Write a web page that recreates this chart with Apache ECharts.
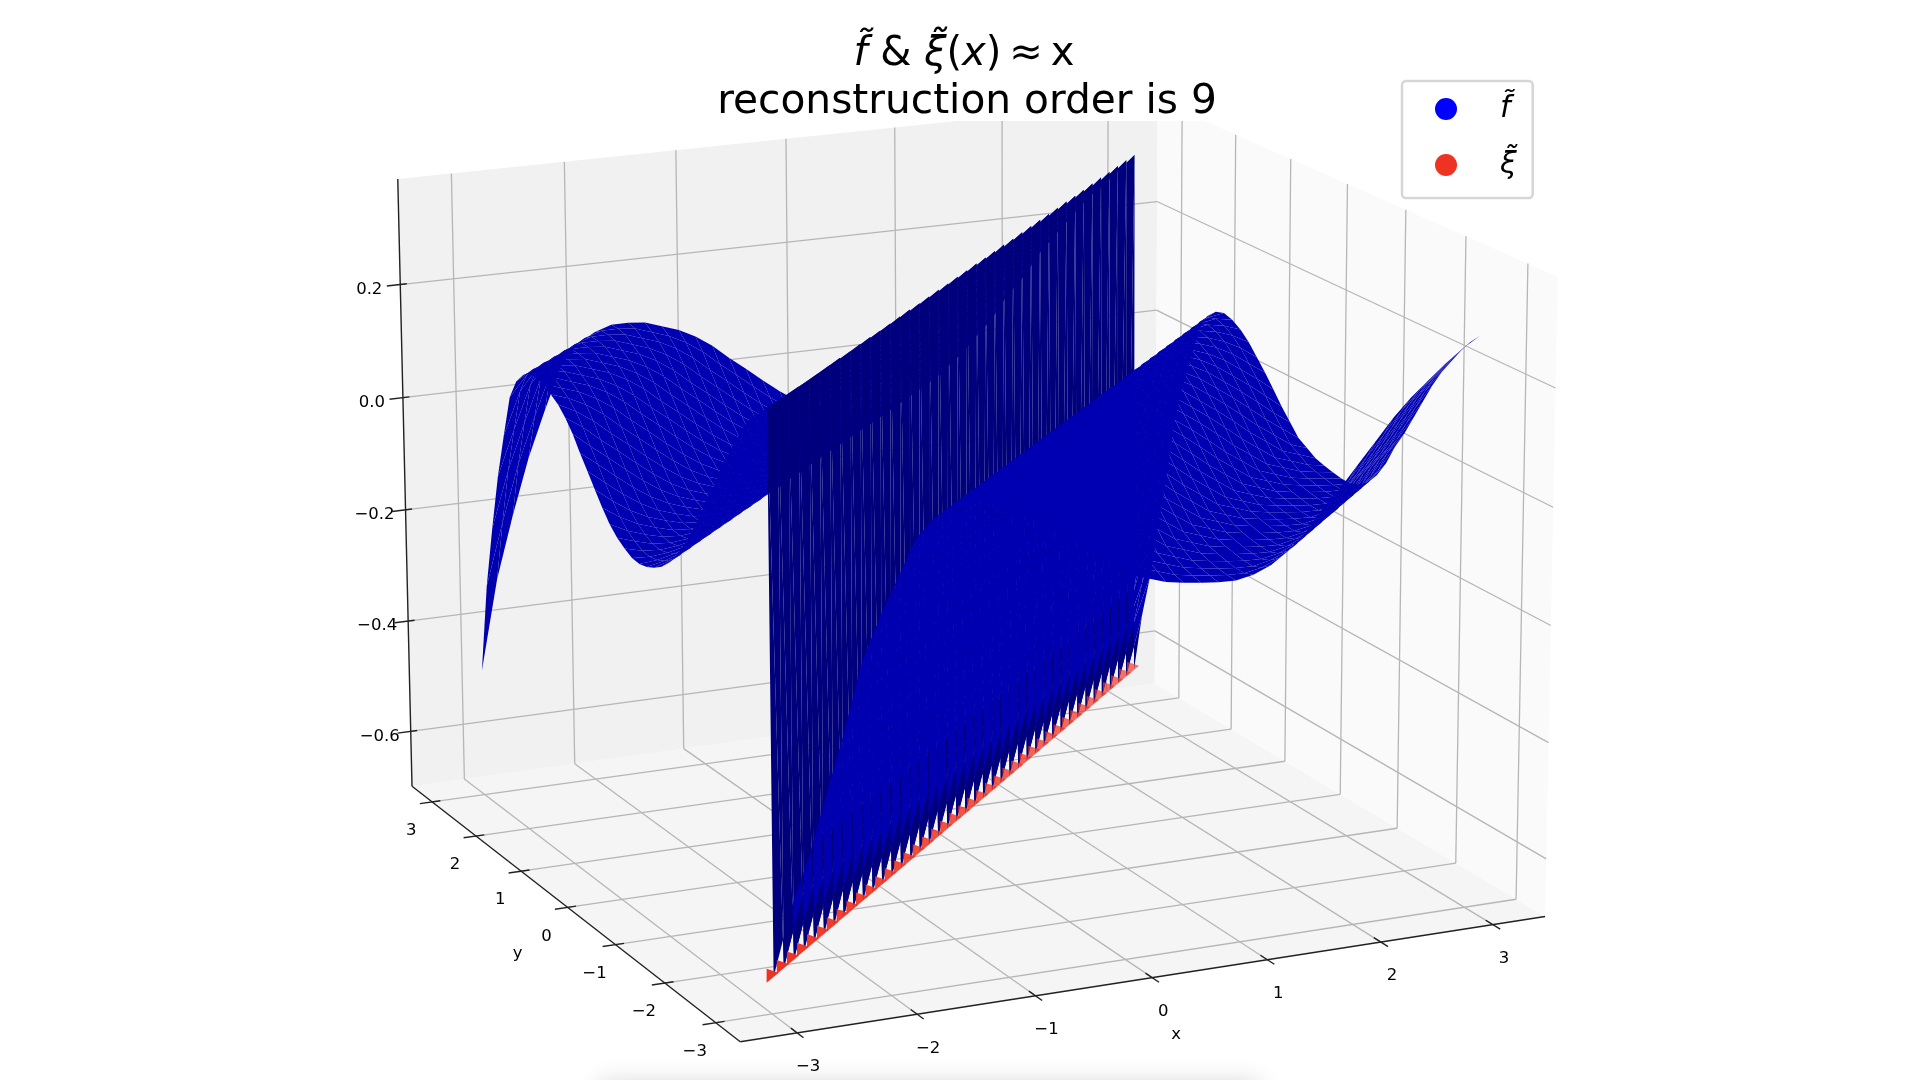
<!DOCTYPE html>
<html>
<head>
<meta charset="utf-8">
<style>
html, body { margin: 0; padding: 0; background: #fff; }
#main { width: 1920px; height: 1080px; }
</style>
<script src="https://cdn.jsdelivr.net/npm/echarts@6/dist/echarts.min.js"></script>
</head>
<body>
<div id="main"></div>
<script>
// mesh positions along x and along y
var gridX = [-3.03, -2.879, -2.729, -2.578, -2.427, -2.276, -2.126, -1.975, -1.824, -1.674,
    -1.523, -1.372, -1.221, -1.071, -0.92, -0.769, -0.619, -0.468, -0.317, -0.166, -0.015,
    0.136, 0.286, 0.437, 0.588, 0.739, 0.889, 1.04, 1.191, 1.341, 1.492,
    1.643, 1.794, 1.944, 2.095, 2.246, 2.396, 2.547, 2.698, 2.849, 3.0];
var gridY = [-3.1, -2.949, -2.799, -2.648, -2.497, -2.346, -2.196, -2.045, -1.894, -1.744,
    -1.593, -1.442, -1.291, -1.141, -0.99, -0.839, -0.689, -0.538, -0.387, -0.236, -0.085,
    0.066, 0.216, 0.367, 0.518, 0.669, 0.819, 0.97, 1.121, 1.271, 1.422,
    1.573, 1.724, 1.874, 2.025, 2.176, 2.326, 2.477, 2.628, 2.779, 2.93];

// surface height on the diagonal (also the red points)
var zDiagonal = -0.63;
// surface height, index 0 is one mesh step away from the diagonal
var zBelowDiagonal = [-0.52, -0.44, -0.34, -0.24, -0.13, -0.06, 0, 0.06, 0.09, 0.105,
    0.11, 0.105, 0.095, 0.08, 0.06, 0.04, 0.018, -0.005, -0.025, -0.045,
    -0.055, -0.065, -0.07, -0.074, -0.077, -0.078, -0.072, -0.06, -0.04, -0.012,
    0.025, 0.055, 0.09, 0.125, 0.16, 0.19, 0.215, 0.24, 0.262, 0.28];
// the first row above the diagonal is the top of the wall
var zWallTop = [0.295, 0.295, 0.296, 0.297, 0.297, 0.298, 0.299, 0.3, 0.3, 0.301,
    0.302, 0.302, 0.303, 0.304, 0.305, 0.305, 0.306, 0.307, 0.307, 0.308,
    0.309, 0.31, 0.31, 0.311, 0.312, 0.312, 0.313, 0.314, 0.315, 0.315,
    0.316, 0.317, 0.317, 0.318, 0.319, 0.32, 0.32, 0.321, 0.322, 0.322];
var zAboveDiagonal = [0.27, 0.25, 0.22, 0.19, 0.16, 0.12, 0.09, 0.05, 0.02,
    -0.01, -0.035, -0.055, -0.07, -0.08, -0.087, -0.09, -0.088, -0.08, -0.07,
    -0.055, -0.035, -0.012, 0.012, 0.035, 0.06, 0.08, 0.095, 0.105, 0.115,
    0.118, 0.118, 0.108, 0.09, 0.055, -0.02, -0.10, -0.20, -0.31, -0.47];
// the wall top sits closer to the red line than one mesh step
var wallPullX = [0.03, 0.032, 0.034, 0.036, 0.038, 0.04, 0.042, 0.044, 0.046, 0.048,
    0.05, 0.052, 0.054, 0.056, 0.058, 0.06, 0.062, 0.064, 0.066, 0.068,
    0.07, 0.072, 0.074, 0.076, 0.078, 0.08, 0.082, 0.084, 0.086, 0.088,
    0.09, 0.092, 0.094, 0.096, 0.098, 0.1, 0.102, 0.104, 0.106, 0.108];
var wallPullY = 0.06;

var xTicks = [-3, -2, -1, 0, 1, 2, 3];
var yTicks = [-3, -2, -1, 0, 1, 2, 3];
var zTicks = [-0.6, -0.4, -0.2, 0, 0.2];
var xRange = [-3.47, 3.47];
var yRange = [-3.47, 3.47];
var zRange = [-0.70, 0.385];

// box corners in page pixels, [u, v, w, px, py]; the camera is fitted to them
var boxCorners = [
    [0, 0, 0, 740, 1042],
    [1, 0, 0, 1545, 916],
    [0, 1, 0, 412, 786],
    [1, 1, 0, 1155, 684],
    [0, 1, 1, 398, 179],
    [1, 0, 1, 1558, 277],
    [1, 1, 1, 1157, 100]
];

function solveCamera(corners) {
    var rows = [], rhs = [];
    corners.forEach(function (c) {
        rows.push([c[0], c[1], c[2], 1, 0, 0, 0, 0, -c[3] * c[0], -c[3] * c[1], -c[3] * c[2]]);
        rhs.push(c[3]);
        rows.push([0, 0, 0, 0, c[0], c[1], c[2], 1, -c[4] * c[0], -c[4] * c[1], -c[4] * c[2]]);
        rhs.push(c[4]);
    });
    var n = 11, a = [];
    for (var i = 0; i < n; i++) {
        a.push([]);
        for (var j = 0; j <= n; j++) {
            var s = 0;
            for (var r = 0; r < rows.length; r++) {
                s += rows[r][i] * (j === n ? rhs[r] : rows[r][j]);
            }
            a[i].push(s);
        }
    }
    for (var p = 0; p < n; p++) {
        var best = p;
        for (var q = p + 1; q < n; q++) {
            if (Math.abs(a[q][p]) > Math.abs(a[best][p])) best = q;
        }
        var t = a[p]; a[p] = a[best]; a[best] = t;
        for (var q2 = 0; q2 < n; q2++) {
            if (q2 === p) continue;
            var f = a[q2][p] / a[p][p];
            for (var k = p; k <= n; k++) a[q2][k] -= f * a[p][k];
        }
    }
    return a.map(function (row, idx) { return row[n] / row[idx]; });
}
var cam = solveCamera(boxCorners);

function project(x, y, z) {
    var u = (x - xRange[0]) / (xRange[1] - xRange[0]);
    var v = (y - yRange[0]) / (yRange[1] - yRange[0]);
    var w = (z - zRange[0]) / (zRange[1] - zRange[0]);
    var h = cam[8] * u + cam[9] * v + cam[10] * w + 1;
    return [
        (cam[0] * u + cam[1] * v + cam[2] * w + cam[3]) / h,
        (cam[4] * u + cam[5] * v + cam[6] * w + cam[7]) / h,
        h
    ];
}

function surfaceZ(i, j) {
    if (i === j) return zDiagonal;
    if (j === i + 1) return zWallTop[i];
    return i > j ? zBelowDiagonal[i - j - 1] : zAboveDiagonal[j - i - 2];
}

function nodePoint(i, j) {
    if (j === i + 1) {
        return project(gridX[i] + wallPullX[i], gridY[j] - wallPullY, surfaceZ(i, j));
    }
    return project(gridX[i], gridY[j], surfaceZ(i, j));
}

// list of mesh cells, far ones first
var cells = [];
for (var i = 0; i < gridX.length - 1; i++) {
    for (var j = 0; j < gridY.length - 1; j++) {
        var depth = (nodePoint(i, j)[2] + nodePoint(i + 1, j)[2] + nodePoint(i + 1, j + 1)[2] + nodePoint(i, j + 1)[2]) / 4;
        cells.push([i, j, depth]);
    }
}
cells.sort(function (a, b) { return b[2] - a[2]; });

function cellColor(i, j) {
    var dx = gridX[i + 1] - gridX[i];
    var dzx = (surfaceZ(i + 1, j) + surfaceZ(i + 1, j + 1) - surfaceZ(i, j) - surfaceZ(i, j + 1)) / 2;
    var dzy = (surfaceZ(i, j + 1) + surfaceZ(i + 1, j + 1) - surfaceZ(i, j) - surfaceZ(i + 1, j)) / 2;
    var flat = dx / Math.sqrt(dx * dx + dzx * dzx + dzy * dzy);
    var s = Math.max(0, Math.min(1, (flat - 0.3) / 0.35));
    return 'rgb(0,0,' + Math.round(124 + 54 * s) + ')';
}

// straight segments of the box: panes' grid lines, axis lines and ticks
var gridSegments = [];
xTicks.forEach(function (x) {
    gridSegments.push([[x, yRange[0], zRange[0]], [x, yRange[1], zRange[0]]]);
    gridSegments.push([[x, yRange[1], zRange[0]], [x, yRange[1], zRange[1]]]);
});
yTicks.forEach(function (y) {
    gridSegments.push([[xRange[0], y, zRange[0]], [xRange[1], y, zRange[0]]]);
    gridSegments.push([[xRange[1], y, zRange[0]], [xRange[1], y, zRange[1]]]);
});
zTicks.forEach(function (z) {
    gridSegments.push([[xRange[0], yRange[1], z], [xRange[1], yRange[1], z]]);
    gridSegments.push([[xRange[1], yRange[1], z], [xRange[1], yRange[0], z]]);
});

var axisSegments = [
    [[xRange[0], yRange[0], zRange[0]], [xRange[1], yRange[0], zRange[0]]],
    [[xRange[0], yRange[0], zRange[0]], [xRange[0], yRange[1], zRange[0]]],
    [[xRange[0], yRange[1], zRange[0]], [xRange[0], yRange[1], zRange[1]]]
];
var xSpan = xRange[1] - xRange[0], ySpan = yRange[1] - yRange[0];
xTicks.forEach(function (x) {
    axisSegments.push([[x, yRange[0] + 0.017 * ySpan, zRange[0]], [x, yRange[0] - 0.017 * ySpan, zRange[0]]]);
});
yTicks.forEach(function (y) {
    axisSegments.push([[xRange[0] + 0.0105 * xSpan, y, zRange[0]], [xRange[0] - 0.0157 * xSpan, y, zRange[0]]]);
});
zTicks.forEach(function (z) {
    axisSegments.push([[xRange[0] + 0.0083 * xSpan, yRange[1], z], [xRange[0] - 0.017 * xSpan, yRange[1], z]]);
});

// labels: text, position on the box, offset in pixels
var labels = [];
function tickText(v, digits) {
    return (v < 0 ? '\u2212' : '') + Math.abs(v).toFixed(digits);
}
xTicks.forEach(function (x) {
    labels.push([tickText(x, 0), x, yRange[0], zRange[0], 11, 34]);
});
yTicks.forEach(function (y) {
    labels.push([tickText(y, 0), xRange[0], y, zRange[0], -21, 29]);
});
zTicks.forEach(function (z) {
    labels.push([tickText(z, 1), xRange[0], yRange[1], z, -31, 5]);
});
labels.push(['x', 0, yRange[0], zRange[0], 24, 57]);
labels.push(['y', xRange[0], 0, zRange[0], -50, 46]);

var panes = [
    { color: '#f5f5f5', kind: 'floor' },
    { color: '#f1f1f1', kind: 'left' },
    { color: '#fafafa', kind: 'right' }
];
var paneCorners = [[0, 0], [1, 0], [1, 1], [0, 1]];
function panePoint(kind, a, b) {
    var xa = xRange[0] + a * xSpan, yb = yRange[0] + b * ySpan;
    var zb = zRange[0] + b * (zRange[1] - zRange[0]);
    if (kind === 'floor') return project(xa, yb, zRange[0]);
    if (kind === 'left') return project(xa, yRange[1], zb);
    return project(xRange[1], yRange[0] + a * ySpan, zb);
}

function segmentItem(seg, api, color, width) {
    var a = api.coord(project(seg[0][0], seg[0][1], seg[0][2]));
    var b = api.coord(project(seg[1][0], seg[1][1], seg[1][2]));
    return {
        type: 'line',
        shape: { x1: a[0], y1: a[1], x2: b[0], y2: b[1] },
        style: { stroke: color, lineWidth: width }
    };
}

var chart = echarts.init(document.getElementById('main'));
chart.setOption({
    animation: false,
    backgroundColor: '#ffffff',
    title: [{
        text: '{i|f\u0303} & {i|\u03BE\u0303}({i|x})\u2009\u2248\u2009x',
        left: 959, top: 30, textAlign: 'center',
        textStyle: {
            fontFamily: 'DejaVu Sans', fontSize: 40, fontWeight: 'normal', color: '#000',
            rich: { i: { fontFamily: 'DejaVu Sans', fontStyle: 'italic', fontSize: 40, color: '#000' } }
        }
    }, {
        text: 'reconstruction order is 9',
        left: 962, top: 77, textAlign: 'center',
        textStyle: { fontFamily: 'DejaVu Sans', fontSize: 40.7, fontWeight: 'normal', color: '#000' }
    }],
    legend: {
        orient: 'vertical', left: 1402, top: 81,
        padding: [13, 16, 18, 33],
        itemWidth: 22, itemHeight: 22, itemGap: 26,
        icon: 'circle',
        borderColor: '#d6d6d6', borderWidth: 2.5, borderRadius: 4,
        data: ['f\u0303', '\u03BE\u0303'],
        formatter: '{i|{name}}',
        textStyle: {
            rich: { i: { fontFamily: 'DejaVu Sans', fontStyle: 'italic', fontSize: 30, height: 22, lineHeight: 22, color: '#000', padding: [0, 0, 0, 38] } }
        }
    },
    // soft shadow along the bottom edge of the screenshot
    graphic: [{
        type: 'rect', silent: true, z: 0,
        shape: { x: 600, y: 1082, width: 660, height: 30 },
        style: { fill: '#fff', shadowColor: 'rgba(0,0,0,0.16)', shadowBlur: 24 }
    }],
    grid: { left: 0, right: 0, top: 0, bottom: 0 },
    xAxis: { type: 'value', min: 0, max: 1920, show: false },
    yAxis: { type: 'value', min: 0, max: 1080, inverse: true, show: false },
    series: [{
        // panes
        type: 'custom', coordinateSystem: 'cartesian2d', silent: true, z: 1,
        data: panes.map(function (p, idx) { return [idx]; }),
        renderItem: function (params, api) {
            var pane = panes[api.value(0)];
            return {
                type: 'polygon',
                shape: { points: paneCorners.map(function (c) { return api.coord(panePoint(pane.kind, c[0], c[1])); }) },
                style: { fill: pane.color }
            };
        }
    }, {
        // grid lines on the panes
        type: 'custom', coordinateSystem: 'cartesian2d', silent: true, z: 2,
        data: gridSegments.map(function (s, idx) { return [idx]; }),
        renderItem: function (params, api) {
            return segmentItem(gridSegments[api.value(0)], api, '#b6b6b6', 1.3);
        }
    }, {
        // the title sits on a white box which cuts the top of the panes
        type: 'custom', coordinateSystem: 'cartesian2d', silent: true, z: 3,
        data: [[0]],
        renderItem: function (params, api) {
            var a = api.coord([0, 0]), b = api.coord([1920, 121]);
            return { type: 'rect', shape: { x: a[0], y: a[1], width: b[0] - a[0], height: b[1] - a[1] }, style: { fill: '#fff' } };
        }
    }, {
        // axis lines and ticks
        type: 'custom', coordinateSystem: 'cartesian2d', silent: true, z: 4,
        data: axisSegments.map(function (s, idx) { return [idx]; }),
        renderItem: function (params, api) {
            return segmentItem(axisSegments[api.value(0)], api, '#222222', 1.4);
        }
    }, {
        // tick labels
        type: 'custom', coordinateSystem: 'cartesian2d', silent: true, z: 4,
        data: labels.map(function (l, idx) { return [idx]; }),
        renderItem: function (params, api) {
            var l = labels[api.value(0)];
            var p = api.coord(project(l[1], l[2], l[3]));
            return {
                type: 'text',
                style: {
                    x: p[0] + l[4], y: p[1] + l[5], text: l[0],
                    align: 'center', verticalAlign: 'middle',
                    font: '16.5px "DejaVu Sans"', fill: '#000'
                }
            };
        }
    }, {
        // surface f
        name: 'f\u0303',
        type: 'custom', coordinateSystem: 'cartesian2d', silent: true, z: 5,
        itemStyle: { color: '#0000ff' },
        progressive: 0,
        data: cells.map(function (c) { return [c[0], c[1]]; }),
        renderItem: function (params, api) {
            var i = api.value(0), j = api.value(1);
            var corners = [[i, j], [i + 1, j], [i + 1, j + 1], [i, j + 1]];
            return {
                type: 'polygon',
                shape: {
                    points: corners.map(function (c) {
                        return api.coord(nodePoint(c[0], c[1]));
                    })
                },
                style: { fill: cellColor(i, j) }
            };
        }
    }, {
        // red points on the diagonal
        name: '\u03BE\u0303',
        type: 'custom', coordinateSystem: 'cartesian2d', silent: true, z: 6,
        itemStyle: { color: '#ee3322' },
        data: gridX.map(function (g, idx) { return [idx]; }).reverse(),
        renderItem: function (params, api) {
            var k = api.value(0);
            var p = api.coord(project(gridX[k], gridY[k], zDiagonal));
            return {
                type: 'polygon',
                shape: { points: [[p[0] - 7, p[1] + 6], [p[0] + 5, p[1] - 4], [p[0] - 7, p[1] - 8]] },
                style: { fill: '#ee3322', opacity: 1 - 0.35 * k / (gridX.length - 1) }
            };
        }
    }]
});
</script>
</body>
</html>
